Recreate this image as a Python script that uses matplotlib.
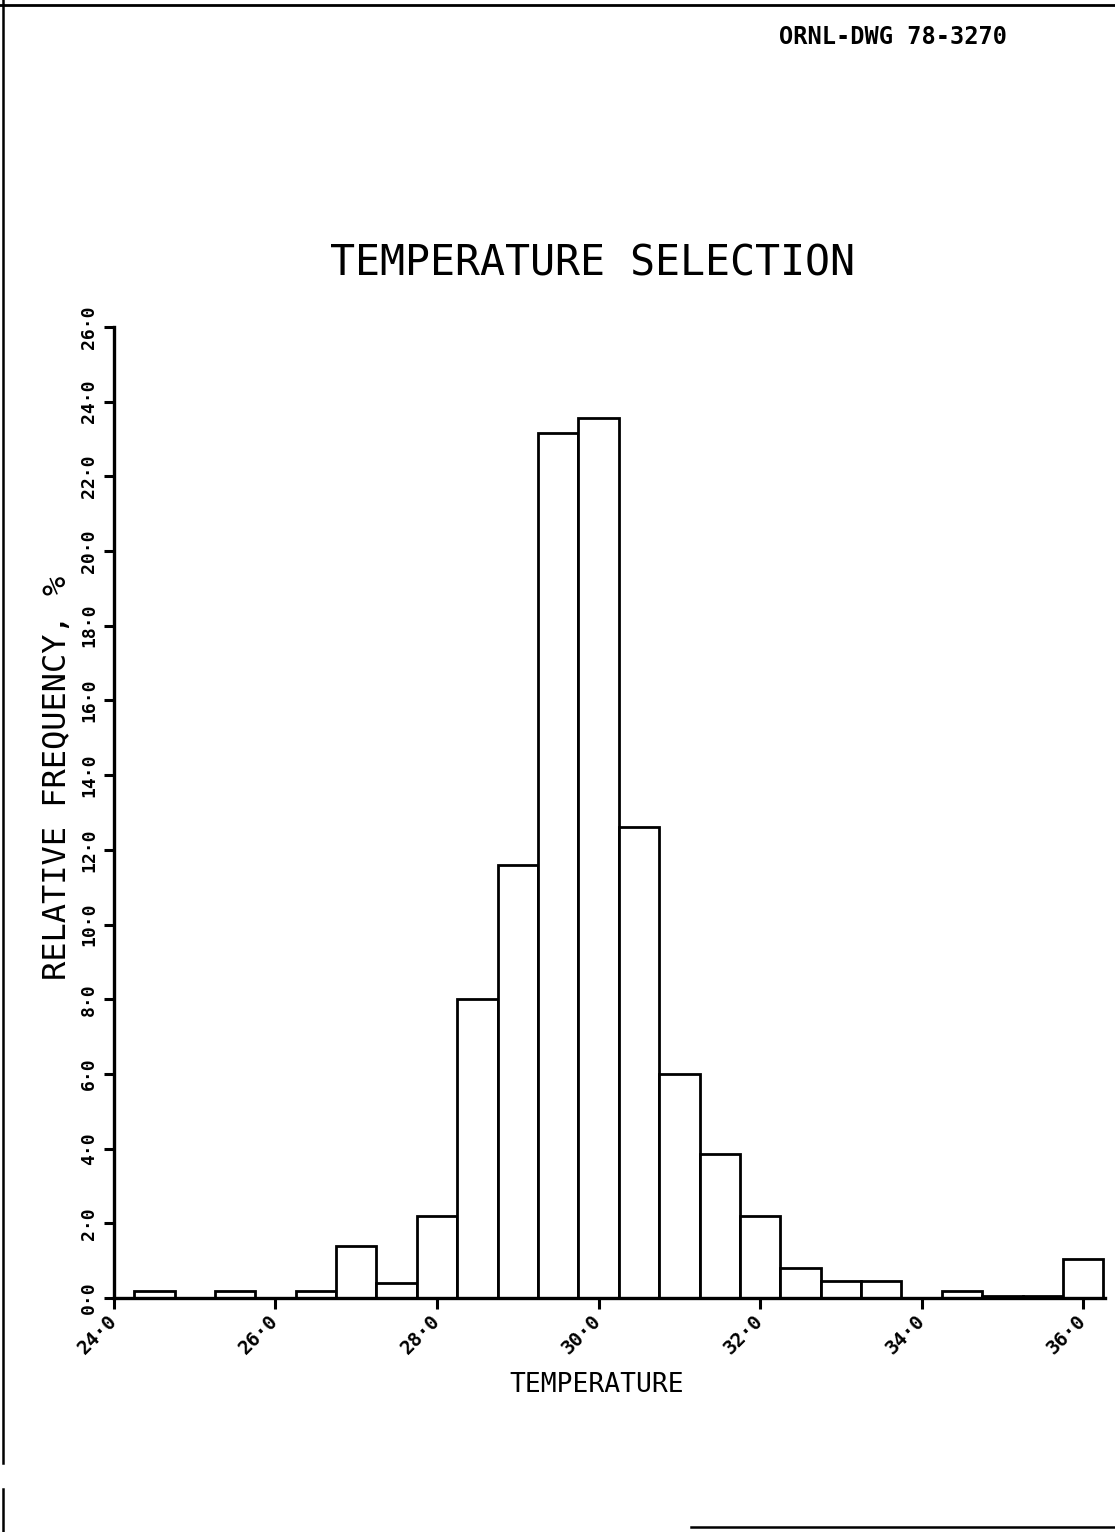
import matplotlib
matplotlib.use("Agg")
import matplotlib.pyplot as plt
from matplotlib.lines import Line2D

# bin centres (deg) and relative frequency (%)
temps = [24.5, 25.0, 25.5, 26.0, 26.5, 27.0, 27.5, 28.0, 28.5, 29.0, 29.5, 30.0,
         30.5, 31.0, 31.5, 32.0, 32.5, 33.0, 33.5, 34.0, 34.5, 35.0, 35.5, 36.0]
freq  = [0.2, 0.0, 0.2, 0.0, 0.2, 1.4, 0.4, 2.2, 8.0, 11.6, 23.15, 23.55,
         12.6, 6.0, 3.85, 2.2, 0.8, 0.45, 0.45, 0.0, 0.2, 0.05, 0.05, 1.05]
bin_w = 0.5

xticks = [24.0, 26.0, 28.0, 30.0, 32.0, 34.0, 36.0]
yticks = [0.0, 2.0, 4.0, 6.0, 8.0, 10.0, 12.0, 14.0, 16.0, 18.0, 20.0, 22.0, 24.0, 26.0]

title  = "TEMPERATURE SELECTION"
xlabel = "TEMPERATURE"
ylabel = "RELATIVE FREQUENCY, %"
dwg_no = "ORNL-DWG 78-3270"

MONO = "DejaVu Sans Mono"

def fmt(v):
    return f"{v:.1f}".replace(".", "\u00b7")

fig = plt.figure(figsize=(11.15, 15.32), dpi=100)
ax = fig.add_axes([0.1022, 0.1527, 0.991 - 0.1022, 0.7866 - 0.1527])

ax.bar(temps, freq, width=bin_w, align="center", facecolor="white",
       edgecolor="black", linewidth=2.0, zorder=2)

ax.set_xlim(24.0, 36.27)
ax.set_ylim(0, 26.0)
for s in ("top", "right"):
    ax.spines[s].set_visible(False)
for s in ("left", "bottom"):
    ax.spines[s].set_linewidth(2.4)
ax.spines["bottom"].set_zorder(3)

ax.set_xticks(xticks)
ax.set_xticklabels([fmt(v) for v in xticks], rotation=45, ha="right", va="center",
                   rotation_mode="anchor", fontfamily=MONO, fontweight="bold",
                   fontsize=14)
ax.set_yticks(yticks)
ax.set_yticklabels([fmt(v) for v in yticks], rotation=90, va="center", ha="center",
                   fontfamily=MONO, fontweight="bold", fontsize=13)
ax.tick_params(axis="x", direction="out", length=8, width=2.2, pad=6)
ax.tick_params(axis="y", direction="out", length=7, width=2.2, pad=11)

fig.text(0.531, 0.828, title, ha="center", va="center", fontfamily=MONO,
         fontsize=30)
fig.text(0.801, 0.976, dwg_no, ha="center", va="center", fontfamily=MONO,
         fontweight="bold", fontsize=17)
fig.text(0.052, 0.492, ylabel, rotation=90, ha="center", va="center",
         fontfamily=MONO, fontsize=23)
fig.text(0.535, 0.096, xlabel, ha="center", va="center", fontfamily=MONO,
         fontsize=19)

# frame lines of the scanned sheet
fig.add_artist(Line2D([0.0, 1.0], [0.997, 0.997], color="black", lw=2.0))
fig.add_artist(Line2D([0.003, 0.003], [0.045, 1.0], color="black", lw=1.8))
fig.add_artist(Line2D([0.003, 0.003], [0.0, 0.028], color="black", lw=1.8))
fig.add_artist(Line2D([0.62, 1.0], [0.003, 0.003], color="black", lw=1.8))

fig.savefig("out.png", dpi=100, facecolor="white")
